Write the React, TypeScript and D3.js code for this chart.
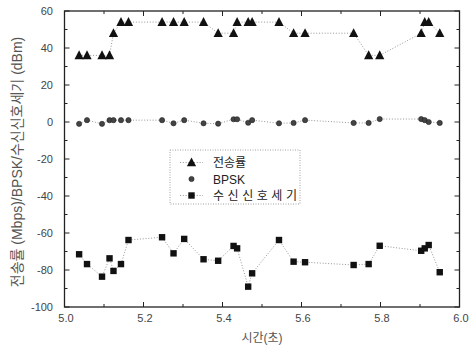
import React from "react";
import * as d3 from "d3";

const times = [5.037, 5.057, 5.095, 5.114, 5.124, 5.143, 5.162, 5.247, 5.276, 5.303, 5.352, 5.389, 5.428, 5.437, 5.465, 5.475, 5.543, 5.58, 5.609, 5.732, 5.77, 5.798, 5.903, 5.912, 5.922, 5.95];
const rate = [36, 36, 36, 36, 48, 54, 54, 54, 54, 54, 54, 48, 48, 54, 54, 54, 54, 48, 48, 48, 36, 36, 48, 54, 54, 48];
const bpsk = [-1, 1, -1, 1, 1, 1, 1, 1, -0.7, 1, -0.7, -0.9, 1.5, 1.5, -0.4, 1, -0.7, -0.5, 1, -0.5, -0.5, 1.6, 1.6, 1, 0, -0.5];
const rssi = [-71.5, -76.8, -83.6, -73.7, -80.5, -76.8, -63.8, -62.3, -71, -63.2, -74.2, -75, -67, -68.3, -89, -81.8, -63.8, -75.5, -75.8, -77.3, -76.8, -66.9, -69.6, -68.3, -66.5, -81.2];
const xTicks = [5.0, 5.2, 5.4, 5.6, 5.8, 6.0];
const yTicks = [-100, -80, -60, -40, -20, 0, 20, 40, 60];
const legendLabels = ["전송률", "BPSK", "수신신호세기"];

const W = 474, H = 350;
const L = 64.5, R = 459.5, T = 11, B = 307;
const font = "Arial, 'Liberation Sans', 'Noto Sans CJK KR', sans-serif";

export default function App() {
  const x = d3.scaleLinear().domain([5, 6]).range([L, R]);
  const y = d3.scaleLinear().domain([-100, 60]).range([B, T]);
  const mkLine = (vals: number[]) => d3.line<number>().x((_, i) => x(times[i])).y((v) => y(v))(vals) || "";
  const xMinor = d3.range(0, 11).map((i) => 5 + i * 0.1);
  const yMinor = d3.range(0, 17).map((i) => -100 + i * 10);
  const tri = (cx: number, cy: number, s: number) => `M${cx},${cy - s * 0.6}L${cx + s * 0.55},${cy + s * 0.45}L${cx - s * 0.55},${cy + s * 0.45}Z`;
  const dot = "1,1.8";
  const lineColor = "#8a8a8a";
  const legY = [162.5, 179, 195.5];
  return (
    <svg width={W} height={H} style={{ position: "absolute", left: 0, top: 0, background: "#fff" }} fontFamily={font}>
      <path d={mkLine(rate)} fill="none" stroke={lineColor} strokeWidth={0.9} strokeDasharray={dot} />
      <path d={mkLine(bpsk)} fill="none" stroke={lineColor} strokeWidth={0.9} strokeDasharray={dot} />
      <path d={mkLine(rssi)} fill="none" stroke={lineColor} strokeWidth={0.9} strokeDasharray={dot} />
      {rate.map((v, i) => (
        <path key={"t" + i} d={tri(x(times[i]), y(v), 8.4)} fill="#111" />
      ))}
      {bpsk.map((v, i) => (
        <circle key={"c" + i} cx={x(times[i])} cy={y(v)} r={2.6} fill="#444" stroke="#222" strokeWidth={0.6} />
      ))}
      {rssi.map((v, i) => (
        <rect key={"s" + i} x={x(times[i]) - 3.2} y={y(v) - 3.2} width={6.4} height={6.4} fill="#111" />
      ))}
      <rect x={L} y={T} width={R - L} height={B - T} fill="none" stroke="#222" strokeWidth={1.3} />
      {xMinor.map((t, i) => {
        const len = i % 2 === 0 ? 5 : 3;
        return (
          <g key={"xt" + i} stroke="#222" strokeWidth={1}>
            <line x1={x(t)} x2={x(t)} y1={B} y2={B - len} />
            <line x1={x(t)} x2={x(t)} y1={T} y2={T + len} />
          </g>
        );
      })}
      {yMinor.map((v, i) => {
        const len = i % 2 === 0 ? 5 : 3;
        return (
          <g key={"yt" + i} stroke="#222" strokeWidth={1}>
            <line x1={L} x2={L + len} y1={y(v)} y2={y(v)} />
            <line x1={R} x2={R - len} y1={y(v)} y2={y(v)} />
          </g>
        );
      })}
      {xTicks.map((t) => (
        <text key={"xl" + t} x={x(t) + 1.5} y={322} textAnchor="middle" fontSize={11} fill="#444">
          {t.toFixed(1)}
        </text>
      ))}
      {yTicks.map((v) => (
        <text key={"yl" + v} x={53} y={y(v) + 4} textAnchor="end" fontSize={11} fill="#444">
          {v}
        </text>
      ))}
      <text x={262} y={342} textAnchor="middle" fontSize={12} fill="#555">시간(초)</text>
      <text transform={`translate(22,162) rotate(-90)`} textAnchor="middle" fontSize={14} fill="#555">
        전송률 (Mbps)/BPSK/수신신호세기 (dBm)
      </text>
      <rect x={170} y={150} width={130} height={54} fill="#fff" stroke="#888" strokeWidth={0.8} strokeDasharray="1,1.5" />
      {legendLabels.map((lab, i) => (
        <g key={"lg" + i}>
          {i !== 1 && (
            <line x1={180} x2={203} y1={legY[i]} y2={legY[i]} stroke={lineColor} strokeWidth={0.9} strokeDasharray={dot} />
          )}
          {i === 0 && <path d={tri(191.5, legY[i], 8.4)} fill="#111" />}
          {i === 1 && <circle cx={191.5} cy={legY[i]} r={2.6} fill="#444" stroke="#222" strokeWidth={0.6} />}
          {i === 2 && <rect x={188.3} y={legY[i] - 3.2} width={6.4} height={6.4} fill="#111" />}
          <text x={213} y={legY[i] + 4.5} fontSize={12} fill="#222" {...(i === 2 ? { textLength: 84 } : {})}>
            {lab}
          </text>
        </g>
      ))}
    </svg>
  );
}
